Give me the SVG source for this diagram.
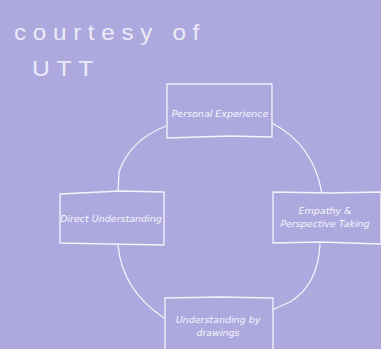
<svg xmlns="http://www.w3.org/2000/svg" width="381" height="349" viewBox="0 0 381 349">
<style>
.ln{fill:none;stroke:#f4f3fb;stroke-width:1.3;stroke-linecap:round;stroke-linejoin:round}
.bx{fill:#ada9de;stroke:#f4f3fb;stroke-width:1.3;stroke-linejoin:round}
.t{font-family:"DejaVu Sans",sans-serif;font-style:italic;font-size:9.5px;fill:#f7f6fc;text-anchor:middle}
.h{font-family:"Liberation Sans",sans-serif;font-size:22px;fill:#eceaf8;letter-spacing:6px}
</style>
<rect width="381" height="349" fill="#ada9de"/>
<text class="h" x="14" y="40" textLength="192" lengthAdjust="spacingAndGlyphs">courtesy of</text>
<text class="h" x="32" y="76" font-size="20" textLength="68" lengthAdjust="spacingAndGlyphs">UTT</text>
<g id="connectors">
<path class="ln" d="M166,126 Q130,140 119,172 L118,193"/>
<path class="ln" d="M272,123 Q314,145 322,194"/>
<path class="ln" d="M320,244 Q318,285 290,302 L272,310"/>
<path class="ln" d="M118,245 Q122,290 164,318"/>
</g>
<g id="personal-experience">
<path class="bx" d="M167,84 L200,84 L272,84 L272,137 L230,136 L167,138 Z"/>
<text class="t" x="220" y="117">Personal Experience</text>
</g>
<g id="direct-understanding">
<path class="bx" d="M60,194 L120,191 L164,192 L164,245 L110,244 L60,243 Z"/>
<text class="t" x="111" y="222">Direct Understanding</text>
</g>
<g id="empathy">
<path class="bx" d="M273,192 L330,193 L381,192 L381,244 L320,242 L273,243 Z"/>
<text class="t" x="325" y="214">Empathy &amp;</text>
<text class="t" x="325" y="227">Perspective Taking</text>
</g>
<g id="drawings">
<path class="bx" d="M165,298 L220,297 L273,298 L273,352 L165,352 Z"/>
<text class="t" x="218" y="323">Understanding by</text>
<text class="t" x="218" y="336">drawings</text>
</g>
</svg>
